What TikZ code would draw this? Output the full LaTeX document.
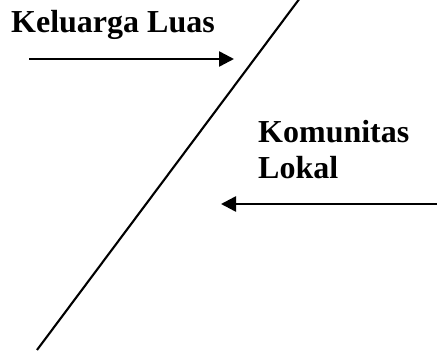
\documentclass[tikz,border=0pt]{standalone}
\usepackage{fontspec}
\setmainfont{Liberation Serif}
\usetikzlibrary{arrows.meta}

\begin{document}
\begin{tikzpicture}[
      x=1pt, y=-1pt,
      label text/.style={inner sep=0pt, anchor=base west,
        font=\bfseries\fontsize{32}{36}\selectfont},
      flow/.style={-{Triangle[length=15pt, width=15pt]}, line width=2.5pt},
      divider/.style={line width=2.1pt}
    ]
    \useasboundingbox (0,0) rectangle (437,352);

    % --- dividing line ---
    \coordinate (div-lo) at (37,350);
    \coordinate (div-hi) at (300,-2);
    \draw[divider] (div-lo) -- (div-hi);

    % --- upper left: keluarga luas ---
    \node[label text] (keluarga) at (11,33) {Keluarga Luas};
    \coordinate (kel-from) at (29,59);
    \coordinate (kel-to) at (234,59);
    \draw[flow] (kel-from) -- (kel-to);

    % --- right side: komunitas lokal ---
    \node[label text] (komunitas) at (258,143) {Komunitas};
    \node[label text] (lokal) at (258,179) {Lokal};
    \coordinate (kom-from) at (438,204);
    \coordinate (kom-to) at (221,204);
    \draw[flow] (kom-from) -- (kom-to);

\end{tikzpicture}
\end{document}
